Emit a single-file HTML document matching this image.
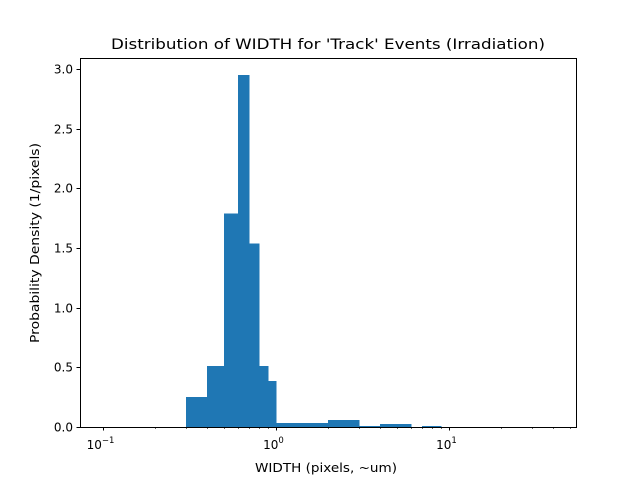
<!DOCTYPE html>
<html><head><meta charset="utf-8"><style>
body{margin:0;background:#fff;font-family:"Liberation Sans","DejaVu Sans",sans-serif}
svg text{font-family:"DejaVu Sans","Liberation Sans",sans-serif}
</style></head><body>
<svg id="chart" width="640" height="480" viewBox="0 0 640 480">
<rect width="640" height="480" fill="#fff"/>
<text x="328" y="49" font-size="14.4" text-anchor="middle" textLength="434" lengthAdjust="spacingAndGlyphs">Distribution of WIDTH for 'Track' Events (Irradiation)</text>
<g id="bars" shape-rendering="crispEdges"></g><g id="axes"></g>
<rect x="80.5" y="58.5" width="496" height="369" fill="none" stroke="#000" stroke-width="1"/>
<text x="326" y="472" font-size="12.5" text-anchor="middle" textLength="142" lengthAdjust="spacingAndGlyphs">WIDTH (pixels, ~um)</text>
<text transform="translate(39,243) rotate(-90)" font-size="12.5" text-anchor="middle" textLength="200" lengthAdjust="spacingAndGlyphs">Probability Density (1/pixels)</text>
</svg>
<script>
const binEdges=[0.3,0.4,0.5,0.6,0.7,0.8,0.9,1,2,3,4,5,6,7,8,9];
const densities=[0.25,0.51,1.79,2.95,1.54,0.51,0.385,0.034,0.059,0.008,0.025,0.025,0,0.01,0.01];
const yTicks=[0,0.5,1,1.5,2,2.5,3];
const yTickLabels=["0.0","0.5","1.0","1.5","2.0","2.5","3.0"];
const xMajor=[0.1,1,10];
const xMajorLabels=["10","10","10"];
const xMajorExp=["−1","0","1"];
const NS="http://www.w3.org/2000/svg";
const L=80,R=576,T=58,B=427,lmin=-1.133,lmax=1.734,ymax=3.093;
const sx=v=>L+(Math.log10(v)-lmin)/(lmax-lmin)*(R-L);
const sy=v=>B-v/ymax*(B-T);
function mk(tag,at,parent){const e=document.createElementNS(NS,tag);for(const k in at)e.setAttribute(k,at[k]);parent.appendChild(e);return e;}
const bars=document.getElementById('bars'),axes=document.getElementById('axes');
densities.forEach((d,i)=>{if(d<=0)return;const x0=Math.round(sx(binEdges[i])),x1=Math.round(sx(binEdges[i+1]));
const r=mk('rect',{x:x0,y:sy(d),width:x1-x0+0.6,height:B-sy(d),fill:'#1f77b4'},bars);

});
yTicks.forEach((v,i)=>{const y=Math.round(sy(v))+0.5;
mk('line',{x1:L-3.5,x2:L,y1:y,y2:y,stroke:'#000'},axes);
const t=mk('text',{x:L-7,y:y+4,'font-size':'12','text-anchor':'end'},axes);t.textContent=yTickLabels[i];

});
xMajor.forEach((v,i)=>{const x=Math.round(sx(v))+0.5;
mk('line',{x1:x,x2:x,y1:B,y2:B+3.5,stroke:'#000'},axes);
const t=mk('text',{x:x-3,y:B+22,'font-size':'12','text-anchor':'middle'},axes);t.textContent=xMajorLabels[i];


const e=mk('tspan',{dy:'-6','font-size':'8.5'},t);e.textContent=xMajorExp[i];});
for(let dec of [0.1,1,10])for(let k=2;k<=9;k++){const v=dec*k;const x=sx(v);if(x>R)break;
const xx=Math.round(x)+0.5;mk('line',{x1:xx,x2:xx,y1:B,y2:B+2,stroke:'#000','stroke-width':0.6},axes);}
</script>
</body></html>
